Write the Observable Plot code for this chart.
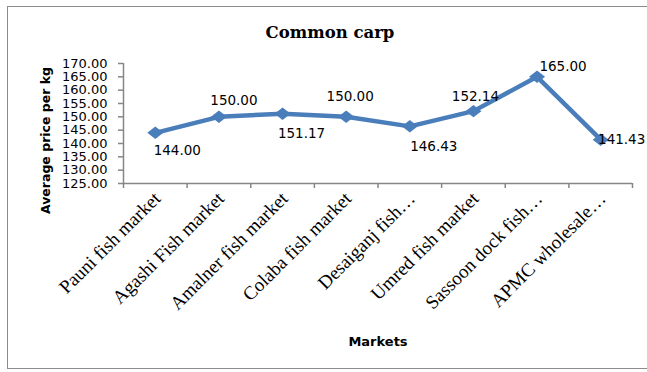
<!DOCTYPE html>
<html>
<head>
<meta charset="utf-8">
<script src="https://cdn.jsdelivr.net/npm/d3@7"></script>
<script src="https://cdn.jsdelivr.net/npm/@observablehq/plot@0.6"></script>
<style>
  html, body { margin: 0; padding: 0; background: white; overflow: hidden; }
  #wrap { position: relative; width: 647px; height: 372px; }
  #border { position: absolute; left: 7px; top: 6px; width: 660px; height: 361px;
            border-left: 1.5px solid #8c8c8c; border-top: 1.5px solid #8c8c8c; border-bottom: 1.5px solid #8c8c8c;
            pointer-events: none; }
  #chart { position: absolute; left: 0; top: 0; }
</style>
</head>
<body>
<div id="wrap"><div id="chart"></div><div id="border"></div></div>
<script>
// ---- data ----
const markets = [
  "Pauni fish market",
  "Agashi Fish market",
  "Amalner fish market",
  "Colaba fish market",
  "Desaiganj fish…",
  "Umred fish market",
  "Sassoon dock fish…",
  "APMC wholesale…"
];
const prices = [144.00, 150.00, 151.17, 150.00, 146.43, 152.14, 165.00, 141.43];
const yTicks = [125, 130, 135, 140, 145, 150, 155, 160, 165, 170];
const chartTitle = "Common carp";
const xTitle = "Markets";
const yTitle = "Average price per kg";

// ---- layout (label offsets, not data) ----
const labelOffset = [[22, 18], [15, -16], [19, 20], [4, -20], [24, 20], [2, -14], [26, -10], [21, 0]];

const data = markets.map((m, i) => ({market: m, idx: i, pos: i + 0.5, price: prices[i]}));

const blue = "#4A7EBB";
const axisGray = "#868686";

const wideDiamond = {
  draw(ctx, size) {
    const r = Math.sqrt(size / Math.PI);
    const w = r, h = r * 0.78;
    ctx.moveTo(-w, 0);
    ctx.lineTo(0, -h);
    ctx.lineTo(w, 0);
    ctx.lineTo(0, h);
    ctx.closePath();
  }
};

const labelMarks = data.map((d, i) =>
  Plot.text([d], {
    x: "pos", y: "price",
    text: v => v.price.toFixed(2),
    dx: labelOffset[i][0], dy: labelOffset[i][1],
    fontFamily: "DejaVu Sans", fontSize: 13.5, fill: "black"
  })
);

const chart = Plot.plot({
  width: 647,
  height: 372,
  marginLeft: 123,
  marginRight: 15,
  marginTop: 63,
  marginBottom: 189,
  style: {fontFamily: "DejaVu Sans", fontSize: "13px", background: "white", color: "black"},
  x: {type: "linear", domain: [0, markets.length], axis: null},
  y: {domain: [125, 170], axis: null},
  marks: [
    Plot.axisY({
      ticks: yTicks, tickFormat: d => d.toFixed(2), tickSize: 5, tickPadding: 11,
      stroke: axisGray, strokeWidth: 1.5, fill: "black", label: null,
      fontFamily: "DejaVu Sans", fontSize: 13
    }),
    Plot.axisX({
      ticks: d3.range(0, markets.length + 1), tickFormat: () => "", tickSize: 5,
      stroke: axisGray, strokeWidth: 1.5, label: null
    }),
    Plot.ruleX([0], {y1: 125, y2: 170, stroke: axisGray, strokeWidth: 1.5}),
    Plot.ruleY([125], {x1: 0, x2: markets.length, stroke: axisGray, strokeWidth: 1.5}),
    Plot.text(data, {
      x: "pos", y: () => 125, text: "market", rotate: -45, textAnchor: "end",
      dx: 2, dy: 12, fontFamily: "Liberation Serif", fontSize: 19, fill: "black"
    }),
    Plot.line(data, {x: "pos", y: "price", stroke: blue, strokeWidth: 4.5}),
    Plot.dot(data, {x: "pos", y: "price", r: 8, symbol: wideDiamond, fill: blue, stroke: null}),
    ...labelMarks,
    Plot.text([chartTitle], {frameAnchor: "top", lineAnchor: "middle", dx: -48, dy: -31, fontFamily: "DejaVu Serif", fontWeight: "bold", fontSize: 16.5, fill: "black"}),
    Plot.text([xTitle], {frameAnchor: "bottom", lineAnchor: "middle", dy: 158, fontFamily: "DejaVu Sans", fontWeight: "bold", fontSize: 13, fill: "black"}),
    Plot.text([yTitle], {frameAnchor: "left", textAnchor: "middle", lineAnchor: "middle", dx: -78, dy: 17, rotate: -90, fontFamily: "DejaVu Sans", fontWeight: "bold", fontSize: 12.5, fill: "black"})
  ]
});
document.getElementById("chart").appendChild(chart);
</script>
</body>
</html>
